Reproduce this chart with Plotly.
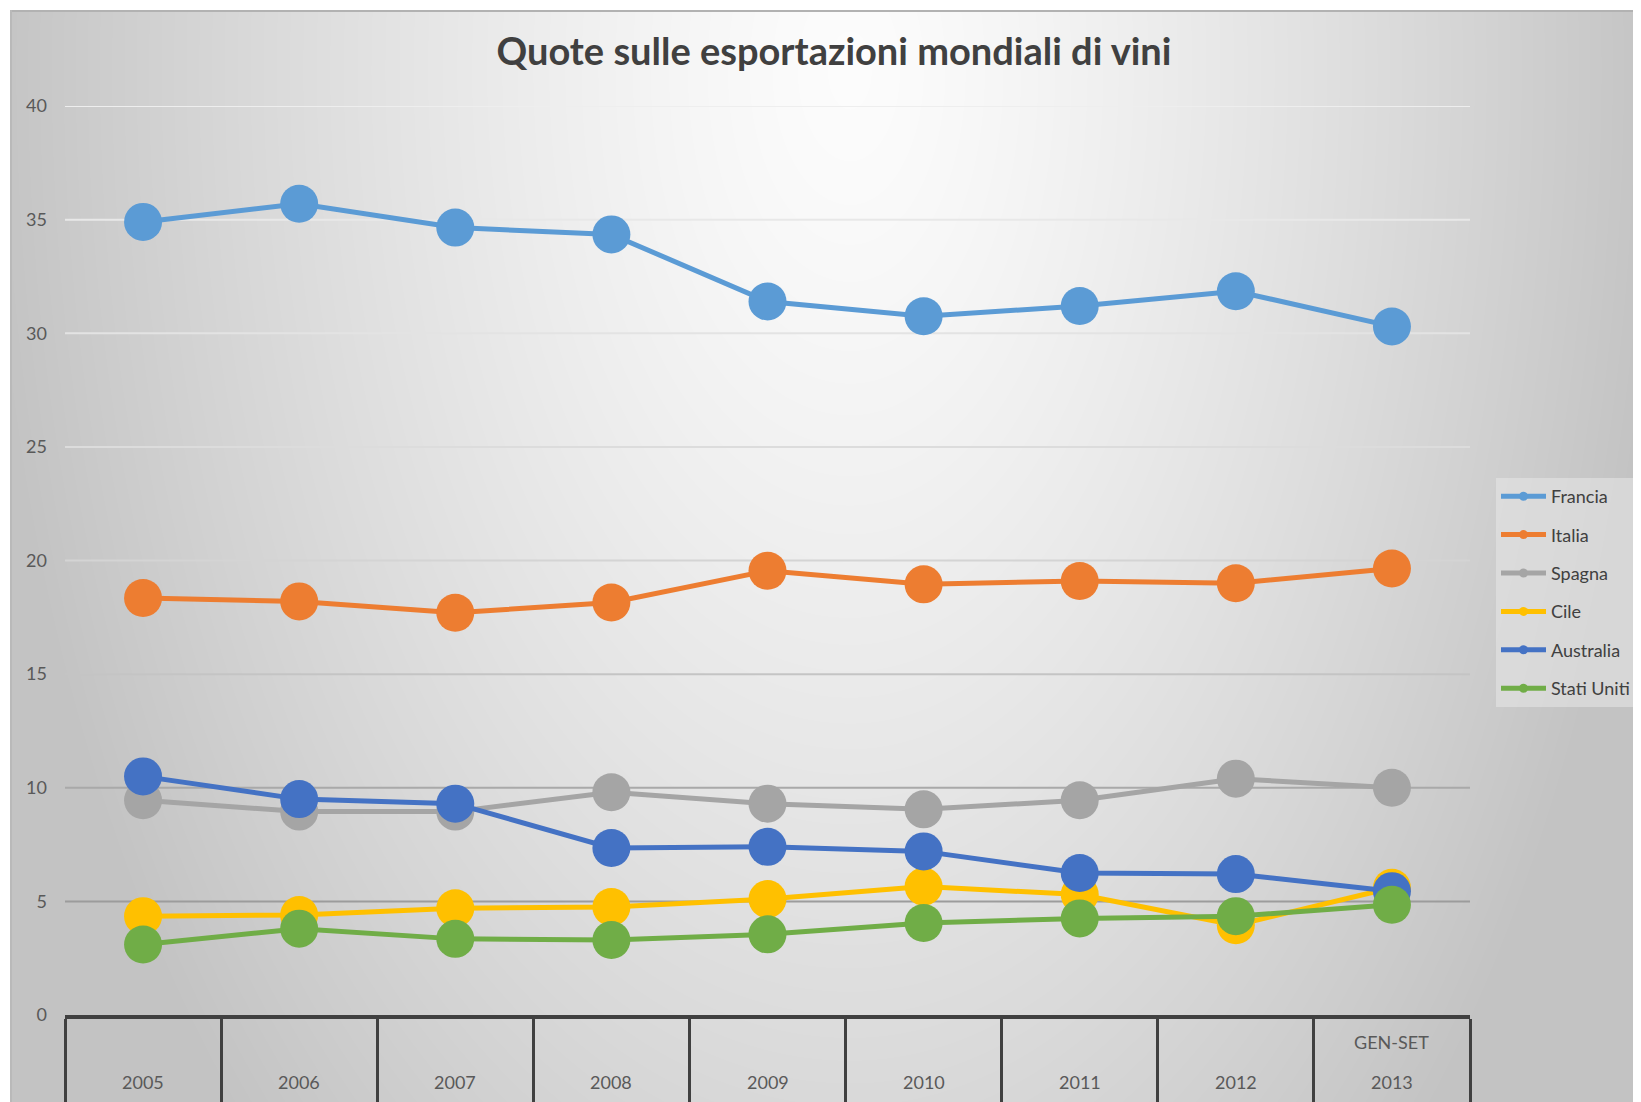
import base64
import struct
import zlib

import numpy as np
import plotly.graph_objects as go

# ---------------- data ----------------
categories = ["2005", "2006", "2007", "2008", "2009", "2010", "2011", "2012", "2013"]
sub_labels = ["", "", "", "", "", "", "", "", "GEN-SET"]

series_names = ["Francia", "Italia", "Spagna", "Cile", "Australia", "Stati Uniti"]
francia = [34.9, 35.7, 34.65, 34.35, 31.4, 30.75, 31.2, 31.85, 30.3]
italia = [18.35, 18.2, 17.7, 18.15, 19.55, 18.95, 19.1, 19.0, 19.65]
spagna = [9.45, 8.95, 8.95, 9.8, 9.3, 9.05, 9.45, 10.4, 10.0]
cile = [4.35, 4.4, 4.7, 4.75, 5.1, 5.65, 5.3, 3.95, 5.6]
australia = [10.5, 9.5, 9.3, 7.35, 7.4, 7.2, 6.25, 6.2, 5.45]
stati_uniti = [3.1, 3.8, 3.35, 3.3, 3.55, 4.05, 4.25, 4.35, 4.85]
series_values = [francia, italia, spagna, cile, australia, stati_uniti]
series_colors = ["#5B9BD5", "#ED7D31", "#A5A5A5", "#FFC000", "#4472C4", "#70AD47"]

y_ticks = [0, 5, 10, 15, 20, 25, 30, 35, 40]
grid_colors = ["#404040", "#9c9c9c", "#a9a9a9", "#c4c4c4", "#d4d4d4",
               "#dcdcdc", "#e3e3e3", "#e8e8e8", "#eeeeee"]

title_text = "Quote sulle esportazioni mondiali di vini"

# ---------------- geometry (page has an 8px body margin) ----------------
OFF = 8
SW, SH = 1641, 1102               # screen size
W, H = SW - OFF, SH - OFF         # figure size
PX0, PX1, PY0, PY1 = 65, 1470, 106, 1015   # plot area in screen px
ML, MT = PX0 - OFF, PY0 - OFF
MR, MB = W - (PX1 - OFF), H - (PY1 - OFF)
PW, PH = PX1 - PX0, PY1 - PY0


def paper_y(screen_y):
    return (PY1 - screen_y) / PH


def paper_x(screen_x):
    return (screen_x - PX0) / PW


# ---------------- background gradient image ----------------
def png_gray(arr):
    h, w = arr.shape
    a = arr.astype(np.int16)
    filt = np.empty_like(a)
    filt[:, 0] = a[:, 0]
    filt[:, 1:] = (a[:, 1:] - a[:, :-1]) % 256
    raw = np.concatenate([np.ones((h, 1), dtype=np.uint8),
                          filt.astype(np.uint8)], axis=1).tobytes()

    def chunk(t, d):
        c = struct.pack(">I", len(d)) + t + d
        return c + struct.pack(">I", zlib.crc32(t + d) & 0xffffffff)

    ihdr = struct.pack(">IIBBBBB", w, h, 8, 0, 0, 0, 0)
    return (b"\x89PNG\r\n\x1a\n" + chunk(b"IHDR", ihdr)
            + chunk(b"IDAT", zlib.compress(raw, 9)) + chunk(b"IEND", b""))


yy, xx = np.mgrid[0:H, 0:W].astype(float)
yy += OFF
xx += OFF
cx, cy = 850.0, 70.0
dx = np.where(xx < cx, (xx - cx) / 840.0, (xx - cx) / 790.0)
dy = (yy - cy) / 1450.0
r = np.sqrt(dx ** 2 + dy ** 2)
val = 252.0 - 55.0 * r ** 1.3
val = np.clip(val, 195, 252)
val[(yy < 10) | (xx < 10)] = 255
val[(yy >= 10) & (yy < 11.5) & (xx >= 10)] = 178
val[(xx >= 10) & (xx < 11.5) & (yy >= 10)] = 185
img = png_gray(np.round(val).astype(np.uint8))
img_uri = "data:image/png;base64," + base64.b64encode(img).decode()

# ---------------- figure ----------------
fig = go.Figure()

for name, vals, col in zip(series_names, series_values, series_colors):
    fig.add_trace(go.Scatter(
        x=categories, y=vals, name=name, mode="lines+markers",
        line=dict(color=col, width=5),
        marker=dict(color=col, size=38),
        showlegend=False, hoverinfo="x+y+name",
    ))

# legend entries (small markers like the original)
for name, col in zip(series_names, series_colors):
    fig.add_trace(go.Scatter(
        x=[None], y=[None], name=name, mode="lines+markers",
        line=dict(color=col, width=5),
        marker=dict(color=col, size=9),
        legendgroup=name, showlegend=True,
    ))

# horizontal gridlines
for v, gc in zip(y_ticks, grid_colors):
    if v == 0:
        continue
    fig.add_hline(y=v, line=dict(color=gc, width=2), layer="below")

# x category labels
label_font = dict(family="Lato", size=18, color="#595959")
annotations = []
for i, (c, s) in enumerate(zip(categories, sub_labels)):
    annotations.append(dict(
        x=i, xref="x", y=paper_y(1082), yref="paper",
        text=c, showarrow=False, xanchor="center", yanchor="middle",
        font=label_font))
    if s:
        annotations.append(dict(
            x=i, xref="x", y=paper_y(1042), yref="paper",
            text=s, showarrow=False, xanchor="center", yanchor="middle",
            font=label_font))

fig.update_layout(
    width=W, height=H,
    margin=dict(l=ML, r=MR, t=MT, b=MB, pad=0, autoexpand=False),
    paper_bgcolor="white",
    plot_bgcolor="rgba(0,0,0,0)",
    images=[dict(source=img_uri, xref="paper", yref="paper",
                 x=-ML / PW, y=1 + MT / PH, sizex=W / PW, sizey=H / PH,
                 xanchor="left", yanchor="top", sizing="stretch",
                 layer="below")],
    title=dict(text=title_text, x=(834 - OFF) / W, xref="container",
               xanchor="center", y=1 - (52 - OFF) / H, yref="container",
               yanchor="middle",
               font=dict(family="Lato", size=38, color="#404040", weight="bold")),
    xaxis=dict(type="category", categoryorder="array", categoryarray=categories,
               range=[-0.5, len(categories) - 0.5], automargin=False,
               showline=True, linecolor="#404040", linewidth=4,
               ticks="outside", tickson="boundaries", ticklen=90,
               tickwidth=3, tickcolor="#404040",
               showticklabels=False, showgrid=False, zeroline=False),
    yaxis=dict(range=[0, 40], tickvals=y_ticks, showgrid=False, zeroline=False,
               showline=False, ticks="", ticklabelstandoff=17, automargin=False,
               tickfont=dict(family="Lato", size=18, color="#595959")),
    legend=dict(x=paper_x(1496), xanchor="left",
                y=paper_y(478), yanchor="top",
                bgcolor="rgba(232,232,232,0.55)", borderwidth=0,
                font=dict(family="Lato", size=18, color="#404040"),
                tracegroupgap=12, itemwidth=45),
    annotations=annotations,
    showlegend=True,
)

fig.write_html("out.html")
